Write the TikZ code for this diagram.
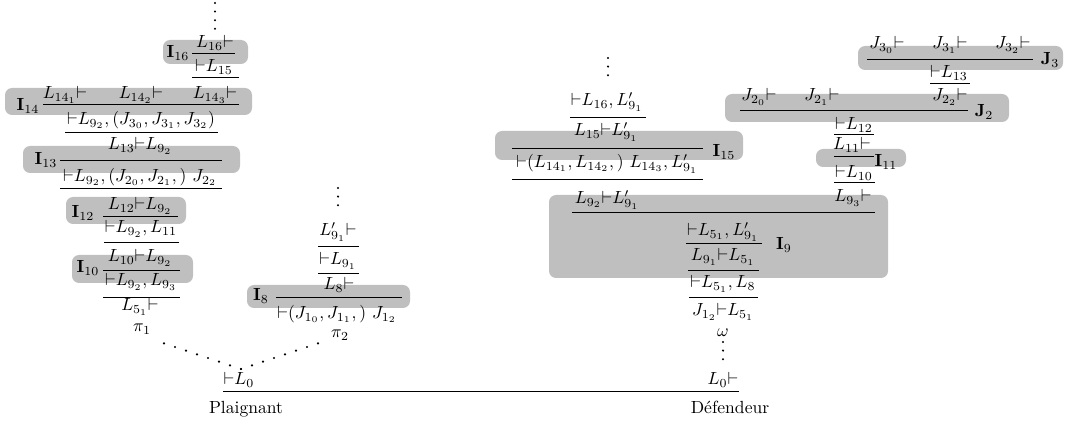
\documentclass[tikz,border=0pt]{standalone}
\usepackage{amssymb}
\usepackage{tikz}

\begin{document}
\begin{tikzpicture}[x=0.02cm,y=-0.02cm,
  txt/.style={inner sep=0pt,anchor=center},
  shade/.style={fill=gray!50,rounded corners=4pt},
  rl/.style={line width=0.4pt},
  vdotline/.style={line width=1.3pt,line cap=round,dash pattern=on 0pt off 4.9pt},
  diagdots/.style={line width=1.4pt,line cap=round,dash pattern=on 0pt off 6.6pt}]
  \useasboundingbox (0,0) rectangle (1067,428);
  \fill[shade] (163,40) rectangle (248,64);
  \fill[shade] (5,88) rectangle (252,115);
  \fill[shade] (23,146) rectangle (240,173);
  \fill[shade] (66,197) rectangle (186,224);
  \fill[shade] (72,255) rectangle (193,283);
  \fill[shade] (247,285) rectangle (410,308);
  \fill[shade] (495,131) rectangle (743,160);
  \fill[shade] (549,195) rectangle (888,278);
  \fill[shade] (858,46) rectangle (1063,70);
  \fill[shade] (725,94) rectangle (1009,122);
  \fill[shade] (816,149) rectangle (906,167);
  \coordinate (top16) at (215,3);
  \coordinate (bot16) at (215,30);
  \draw[vdotline] (top16) -- (bot16);
  \node[txt] (a16) at (215,43) {$L_{16}{\vdash}$};
  \node[txt] (i16) at (178,53) {$\mathbf{I}_{16}$};
  \draw[rl] (192,53) -- (235,53);
  \node[txt] (a15) at (214,67) {${\vdash}L_{15}$};
  \draw[rl] (192,77) -- (239,77);
  \node[txt] (a141) at (65,95) {$L_{14_1}{\vdash}$};
  \node[txt] (a142) at (141,95) {$L_{14_2}{\vdash}$};
  \node[txt] (a143) at (215,95) {$L_{14_3}{\vdash}$};
  \node[txt] (i14) at (28,106) {$\mathbf{I}_{14}$};
  \draw[rl] (43,104) -- (239,104);
  \node[txt] (a92j3) at (141,120) {${\vdash}L_{9_2},(J_{3_0},J_{3_1},J_{3_2})$};
  \draw[rl] (65,132) -- (218,132);
  \node[txt] (a13) at (140,146) {$L_{13}{\vdash}L_{9_2}$};
  \node[txt] (i13) at (46,160) {$\mathbf{I}_{13}$};
  \draw[rl] (60,160) -- (222,160);
  \node[txt] (a92j2) at (140,177) {${\vdash}L_{9_2},(J_{2_0},J_{2_1},)\ J_{2_2}$};
  \draw[rl] (60,188) -- (222,188);
  \node[txt] (a12) at (140,206) {$L_{12}{\vdash}L_{9_2}$};
  \node[txt] (i12) at (83,213) {$\mathbf{I}_{12}$};
  \draw[rl] (103,216) -- (178,216);
  \node[txt] (a11) at (141,229) {${\vdash}L_{9_2},L_{11}$};
  \draw[rl] (104,242) -- (179,242);
  \node[txt] (a10) at (140,258) {$L_{10}{\vdash}L_{9_2}$};
  \node[txt] (i10) at (88,268) {$\mathbf{I}_{10}$};
  \draw[rl] (103,270) -- (180,270);
  \node[txt] (a93) at (141,282) {${\vdash}L_{9_2},L_{9_3}$};
  \draw[rl] (103,297) -- (180,297);
  \node[txt] (a51) at (140,307) {$L_{5_1}{\vdash}$};
  \node[txt] (pi1) at (142,329) {$\pi_1$};
  \coordinate (top91) at (338,188);
  \coordinate (bot91) at (338,213);
  \draw[vdotline] (top91) -- (bot91);
  \node[txt] (b91p) at (338,232) {$L'_{9_1}{\vdash}$};
  \draw[rl] (318,246) -- (359,246);
  \node[txt] (b91) at (338,261) {${\vdash}L_{9_1}$};
  \draw[rl] (318,273) -- (359,273);
  \node[txt] (b8) at (339,285) {$L_8{\vdash}$};
  \node[txt] (i8) at (261,296) {$\mathbf{I}_8$};
  \draw[rl] (276,297) -- (402,297);
  \node[txt] (b1) at (337,314) {${\vdash}(J_{1_0},J_{1_1},)\ J_{1_2}$};
  \node[txt] (pi2) at (340,335) {$\pi_2$};
  \coordinate (meet) at (241,369);
  \coordinate (end1) at (163,343);
  \coordinate (end2) at (328,340);
  \draw[diagdots] (meet) -- (end1);
  \draw[diagdots] (meet) -- (end2);
  \node[txt] (l0l) at (239,380) {${\vdash}L_0$};
  \node[txt] (l0r) at (723,380) {$L_0{\vdash}$};
  \draw[rl] (223,391) -- (739,391);
  \node[inner sep=0pt,anchor=base] (plg) at (246,413) {Plaignant};
  \node[inner sep=0pt,anchor=base] (dfd) at (730,413) {Défendeur};
  \coordinate (top916) at (608,58);
  \coordinate (bot916) at (608,83);
  \draw[vdotline] (top916) -- (bot916);
  \node[txt] (c16) at (607,102) {${\vdash}L_{16},L'_{9_1}$};
  \draw[rl] (570,117) -- (646,117);
  \node[txt] (c15) at (606,132) {$L_{15}{\vdash}L'_{9_1}$};
  \draw[rl] (512,148) -- (703,148);
  \node[txt] (i15) at (724,152) {$\mathbf{I}_{15}$};
  \node[txt] (c14) at (607,164) {${\vdash}(L_{14_1},L_{14_2},)\ L_{14_3},L'_{9_1}$};
  \draw[rl] (512,179) -- (703,179);
  \node[txt] (c92) at (607,200) {$L_{9_2}{\vdash}L'_{9_1}$};
  \node[txt] (c93) at (853,198) {$L_{9_3}{\vdash}$};
  \draw[rl] (572,212) -- (875,212);
  \node[txt] (c51p) at (723,232) {${\vdash}L_{5_1},L'_{9_1}$};
  \draw[rl] (686,243) -- (762,243);
  \node[txt] (i9) at (784,245) {$\mathbf{I}_9$};
  \node[txt] (c91) at (723,257) {$L_{9_1}{\vdash}L_{5_1}$};
  \draw[rl] (688,270) -- (759,270);
  \node[txt] (c8) at (723,284) {${\vdash}L_{5_1},L_8$};
  \draw[rl] (689,297) -- (758,297);
  \node[txt] (c12) at (723,312) {$J_{1_2}{\vdash}L_{5_1}$};
  \node[txt] (om) at (723,333) {$\omega$};
  \coordinate (topom) at (723,342);
  \coordinate (botom) at (723,367);
  \draw[vdotline] (topom) -- (botom);
  \node[txt] (j30) at (887,45) {$J_{3_0}{\vdash}$};
  \node[txt] (j31) at (950,45) {$J_{3_1}{\vdash}$};
  \node[txt] (j32) at (1013,45) {$J_{3_2}{\vdash}$};
  \draw[rl] (867,59) -- (1033,59);
  \node[txt] (j3) at (1050,60) {$\mathbf{J}_3$};
  \node[txt] (d13) at (949,73) {${\vdash}L_{13}$};
  \draw[rl] (930,83) -- (970,83);
  \node[txt] (j20) at (759,97) {$J_{2_0}{\vdash}$};
  \node[txt] (j21) at (822,97) {$J_{2_1}{\vdash}$};
  \node[txt] (j22) at (950,97) {$J_{2_2}{\vdash}$};
  \draw[rl] (740,110) -- (968,110);
  \node[txt] (j2) at (984,112) {$\mathbf{J}_2$};
  \node[txt] (d12) at (854,125) {${\vdash}L_{12}$};
  \draw[rl] (834,134) -- (874,134);
  \node[txt] (d11) at (852,145) {$L_{11}{\vdash}$};
  \draw[rl] (834,156) -- (874,156);
  \node[txt] (i11) at (886,162) {$\mathbf{I}_{11}$};
  \node[txt] (d10) at (854,173) {${\vdash}L_{10}$};
  \draw[rl] (834,182) -- (875,182);
\end{tikzpicture}
\end{document}
